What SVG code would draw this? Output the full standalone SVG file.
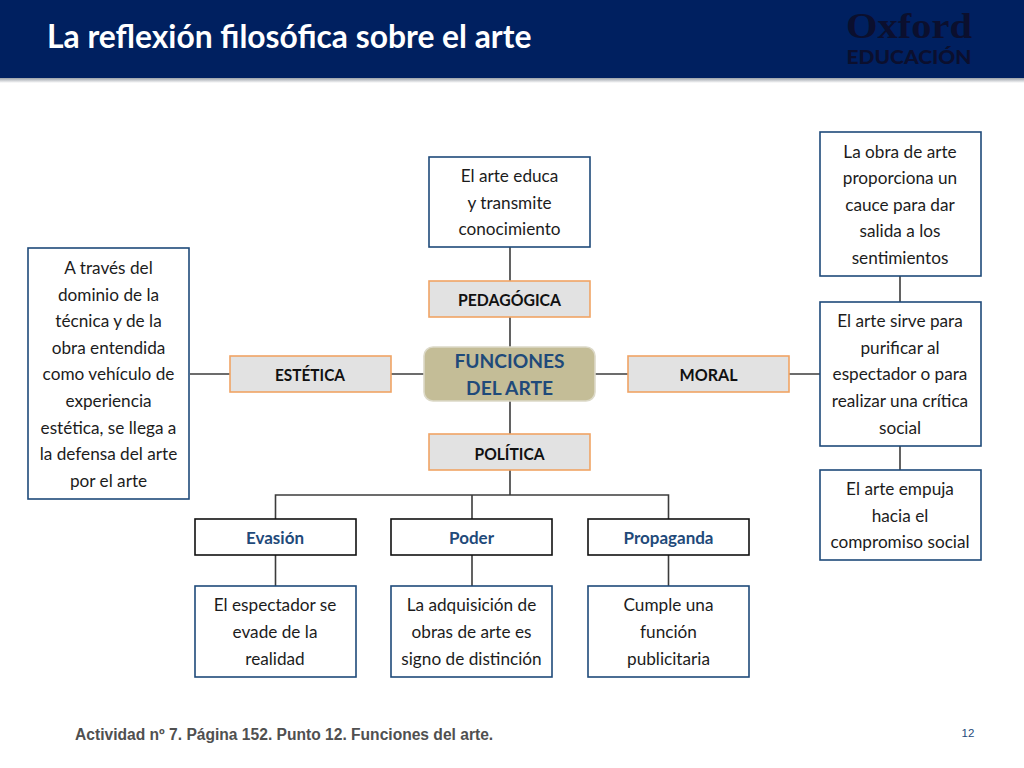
<svg xmlns="http://www.w3.org/2000/svg" width="1024" height="768" viewBox="0 0 1024 768">
<defs>
<linearGradient id="sh" x1="0" y1="0" x2="0" y2="1"><stop offset="0" stop-color="#9aa0a8"/><stop offset="1" stop-color="#ffffff"/></linearGradient>
</defs>
<style>
text{font-family:"Lato","Carlito","Open Sans",sans-serif;text-anchor:middle}
.c{fill:none;stroke:#3c3c3c;stroke-width:1.6}
.d{fill:#fff;stroke:#1f4a7a;stroke-width:1.6}
.o{fill:#e2e2e2;stroke:#f0a465;stroke-width:1.6}
.k{fill:#fff;stroke:#111;stroke-width:1.6}
.t{font-size:17.2px;fill:#1c1c1c}
.b{font-size:17px;font-weight:700;fill:#111;transform:translateY(.5px)}
.h{font-size:17px;font-weight:700;fill:#1f4a7a;transform:translateY(.5px)}
</style>
<rect width="1024" height="768" fill="#fff"/>
<g id="header">
<rect x="0" y="78" width="1024" height="5" fill="url(#sh)"/>
<rect x="0" y="0" width="1024" height="78" fill="#002060"/>
<text x="47" y="47.500" style="text-anchor:start;font-size:31.800px;font-weight:700;fill:#fff">La reflexión filosófica sobre el arte</text>
<text x="909" y="38" style="font-family:'Liberation Serif',serif;font-size:36px;font-weight:700;fill:#0b0f2e" textLength="126" lengthAdjust="spacingAndGlyphs">Oxford</text>
<text x="909" y="64" style="font-size:19.500px;font-weight:900;fill:#0b0f2e" textLength="125" lengthAdjust="spacingAndGlyphs">EDUCACIÓN</text>
</g>
<g id="connectors">
<path class="c" d="M510 247V281M510 317V347M510 401V434M510 470V495M190 374H230M391 374H425M595 374H628M789 374H820M900 276V302M900 446V470M275.500 519V495H668.500V519M472 495V519M275.500 555V586M472 555V586M668.500 555V586"/>
</g>
<g id="n-centro">
<rect x="424" y="347" width="171" height="54" rx="9" fill="#c4bd97" stroke="#dcd9c8" stroke-width="1.600"/>
<text x="509.500" y="368" style="font-size:19.200px;font-weight:700;fill:#1f4a7a">FUNCIONES</text>
<text x="509.500" y="395" style="font-size:19.200px;font-weight:700;fill:#1f4a7a">DEL ARTE</text>
</g>
<g id="n-educa"><rect class="d" x="429" y="157" width="161" height="90"/>
<text class="t" x="509.500" y="182">El arte educa</text><text class="t" x="509.500" y="209">y transmite</text><text class="t" x="509.500" y="235">conocimiento</text></g>
<g id="n-pedagogica"><rect class="o" x="429" y="281" width="161" height="36"/><text class="b" x="509.500" y="305" textLength="103" lengthAdjust="spacingAndGlyphs">PEDAGÓGICA</text></g>
<g id="n-politica"><rect class="o" x="429" y="434" width="161" height="36"/><text class="b" x="509.500" y="459" textLength="70" lengthAdjust="spacingAndGlyphs">POLÍTICA</text></g>
<g id="n-estetica"><rect class="o" x="230" y="356" width="161" height="36"/><text class="b" x="310" y="380" textLength="70" lengthAdjust="spacingAndGlyphs">ESTÉTICA</text></g>
<g id="n-moral"><rect class="o" x="628" y="356" width="161" height="36"/><text class="b" x="708.500" y="380" textLength="58" lengthAdjust="spacingAndGlyphs">MORAL</text></g>
<g id="n-dominio"><rect class="d" x="28" y="248" width="161" height="251"/>
<text class="t" x="108.500" y="274">A través del</text><text class="t" x="108.500" y="301">dominio de la</text><text class="t" x="108.500" y="327">técnica y de la</text><text class="t" x="108.500" y="354">obra entendida</text><text class="t" x="108.500" y="380">como vehículo de</text><text class="t" x="108.500" y="407">experiencia</text><text class="t" x="108.500" y="434">estética, se llega a</text><text class="t" x="108.500" y="460">la defensa del arte</text><text class="t" x="108.500" y="487">por el arte</text></g>
<g id="n-cauce"><rect class="d" x="820" y="132" width="161" height="144"/>
<text class="t" x="900" y="158">La obra de arte</text><text class="t" x="900" y="184">proporciona un</text><text class="t" x="900" y="211">cauce para dar</text><text class="t" x="900" y="237">salida a los</text><text class="t" x="900" y="264">sentimientos</text></g>
<g id="n-purificar"><rect class="d" x="820" y="302" width="161" height="144"/>
<text class="t" x="900" y="327">El arte sirve para</text><text class="t" x="900" y="354">purificar al</text><text class="t" x="900" y="380">espectador o para</text><text class="t" x="900" y="407">realizar una crítica</text><text class="t" x="900" y="434">social</text></g>
<g id="n-compromiso"><rect class="d" x="820" y="470" width="161" height="90"/>
<text class="t" x="900" y="495">El arte empuja</text><text class="t" x="900" y="522">hacia el</text><text class="t" x="900" y="548">compromiso social</text></g>
<g id="n-evasion"><rect class="k" x="195" y="519" width="161" height="36"/><text class="h" x="275" y="543">Evasión</text></g>
<g id="n-poder"><rect class="k" x="391" y="519" width="161" height="36"/><text class="h" x="471.500" y="543">Poder</text></g>
<g id="n-propaganda"><rect class="k" x="588" y="519" width="161" height="36"/><text class="h" x="668.500" y="543">Propaganda</text></g>
<g id="n-evade"><rect class="d" x="195" y="586" width="161" height="91"/>
<text class="t" x="275" y="611">El espectador se</text><text class="t" x="275" y="638">evade de la</text><text class="t" x="275" y="665">realidad</text></g>
<g id="n-adquisicion"><rect class="d" x="391" y="586" width="161" height="91"/>
<text class="t" x="471.500" y="611">La adquisición de</text><text class="t" x="471.500" y="638">obras de arte es</text><text class="t" x="471.500" y="665">signo de distinción</text></g>
<g id="n-cumple"><rect class="d" x="588" y="586" width="161" height="91"/>
<text class="t" x="668.500" y="611">Cumple una</text><text class="t" x="668.500" y="638">función</text><text class="t" x="668.500" y="665">publicitaria</text></g>
<g id="footer">
<text x="75" y="740" style="font-family:'Liberation Sans',sans-serif;text-anchor:start;font-size:15.600px;font-weight:700;fill:#505050">Actividad nº 7. Página 152. Punto 12. Funciones del arte.</text>
<text x="968" y="737" style="font-family:'Liberation Sans',sans-serif;font-size:11.500px;fill:#1f4a7a">12</text>
</g>
</svg>
